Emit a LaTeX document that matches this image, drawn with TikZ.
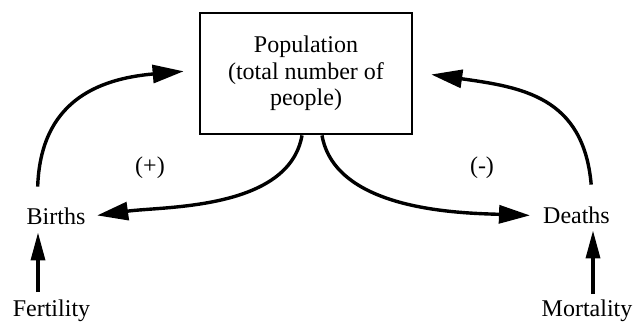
\documentclass[tikz,border=0pt]{standalone}
\usepackage{fontspec}
\setmainfont{Liberation Serif}
\usetikzlibrary{arrows.meta}

\begin{document}
\begin{tikzpicture}[
  x=1pt, y=1pt,
  every node/.style={font=\fontsize{24}{26.5}\selectfont, inner sep=2pt},
  stockbox/.style={
    draw, line width=2.8pt, minimum width=212pt, minimum height=121pt,
    align=center,
  },
  flow/.style={-{Triangle[length=31pt,width=18pt]}, line width=3.4pt},
  driver/.style={-{Triangle[length=28pt,width=14pt]}, line width=3.4pt},
]
  \useasboundingbox (0,0) rectangle (633,323);

  % Population (stock in the middle)
  \node[stockbox] (pop) at (306,249.5) {Population\\(total number of\\people)};

  % Births / Deaths and what drives them
  \node[anchor=base] (births) at (56,98) {Births};
  \node[anchor=base] (deaths) at (576.5,99) {Deaths};
  \node[anchor=base] (fert) at (51.5,6) {Fertility};
  \node[anchor=base] (mort) at (587,6) {Mortality};

  % loop signs
  \node (plus) at (150,155) {(+)};
  \node (minus) at (482,155) {(-)};

  % feedback loops
  \draw[flow, shorten <=19.6pt, shorten >=15pt]
    ([xshift=-19pt]births.north) to[out=88,in=185,looseness=1.25] ([yshift=3.5pt]pop.west);
  \draw[flow, shorten >=9.7pt]
    ([xshift=-4pt]pop.south) to[out=-100,in=8,looseness=0.85] (births.east);
  \draw[flow, shorten >=11pt]
    ([xshift=16pt]pop.south) to[out=-80,in=178,looseness=0.85] (deaths.west);
  \draw[flow, shorten <=20.6pt, shorten >=18pt]
    ([xshift=16.5pt]deaths.north) to[out=95,in=-8,looseness=1.25] ([yshift=1.5pt]pop.east);

  % fertility / mortality arrows
  \draw[driver, shorten <=6pt, shorten >=5pt] ([xshift=-13.5pt]fert.north) -- ([xshift=-18pt]births.south);
  \draw[driver, shorten <=4pt, shorten >=4pt] ([xshift=6pt]mort.north) -- ([xshift=16.5pt]deaths.south);
\end{tikzpicture}
\end{document}
